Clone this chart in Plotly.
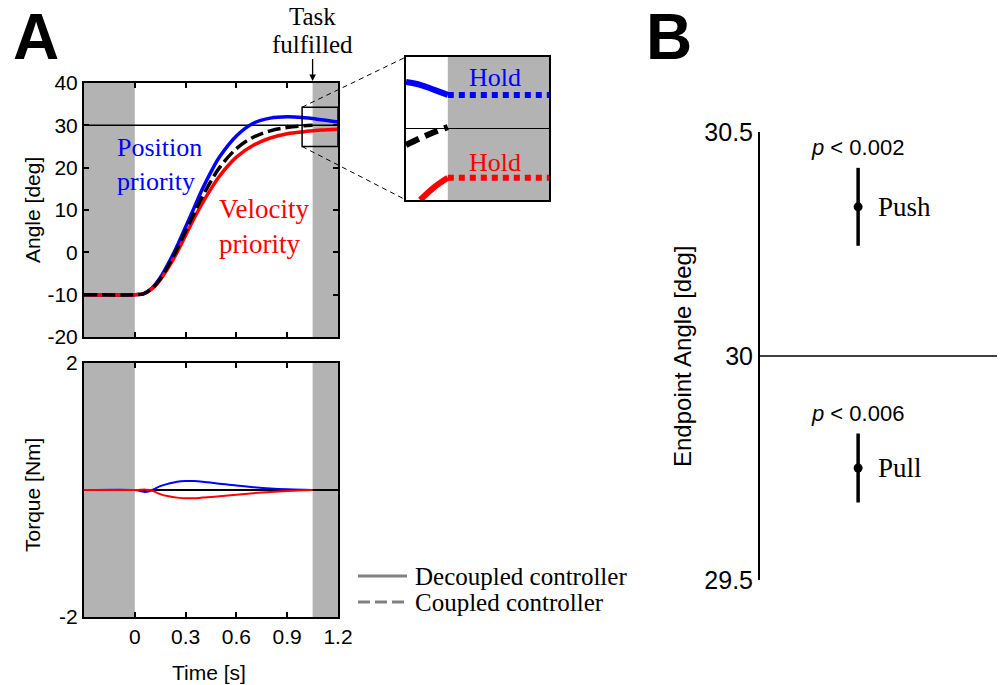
import plotly.graph_objects as go

# ---------------- data ----------------
t_main = [-0.3, 0.0, 0.05, 0.1, 0.15, 0.2, 0.25, 0.3, 0.35, 0.4, 0.45, 0.5, 0.6, 0.7, 0.8, 0.9, 1.0, 1.05, 1.1, 1.2]
angle_position = [-10, -10, -9.8, -8.5, -6, -2.5, 1.5, 6, 10.5, 15, 19, 22.5, 27.5, 30.5, 31.7, 32, 31.8, 31.6, 31.3, 30.8]
angle_velocity = [-10, -10, -9.8, -8.7, -6.5, -3.5, 0, 4, 8, 11.7, 15, 18, 22.5, 25.3, 27, 28, 28.5, 28.7, 28.9, 29.1]
t_coupled = [-0.3, 0.0, 0.05, 0.1, 0.15, 0.2, 0.25, 0.3, 0.35, 0.4, 0.45, 0.5, 0.6, 0.7, 0.8, 0.9, 1.0, 1.05]
angle_coupled = [-10, -10, -9.8, -8.6, -6.3, -3, 0.8, 5, 9.2, 13.2, 16.8, 20, 24.5, 27.2, 28.7, 29.5, 29.9, 30.0]
target_t = [-0.3, 1.2]
target_angle = [30, 30]
angle_ticks = [-20, -10, 0, 10, 20, 30, 40]
angle_ticktext = ["-20", "-10", "0", "10", "20", "30", "40"]

t_torque = [-0.3, 0.0, 0.03, 0.06, 0.09, 0.12, 0.15, 0.2, 0.25, 0.3, 0.35, 0.4, 0.5, 0.6, 0.7, 0.8, 0.9, 1.0, 1.05]
torque_position = [0, 0, -0.015, -0.03, -0.015, 0.02, 0.06, 0.1, 0.13, 0.14, 0.14, 0.13, 0.1, 0.07, 0.045, 0.025, 0.012, 0.004, 0]
torque_velocity = [0, 0, 0.003, 0.006, 0.0, -0.03, -0.065, -0.1, -0.12, -0.13, -0.13, -0.12, -0.1, -0.075, -0.05, -0.03, -0.015, -0.005, 0]
torque_zero = [0, 0]
torque_ticks = [-2, 2]
torque_ticktext = ["-2", "2"]
time_ticks = [0, 0.3, 0.6, 0.9, 1.2]
time_ticktext = ["0", "0.3", "0.6", "0.9", "1.2"]

# inset (zoom of the end of the movement)
inset_t_blue = [0.988, 1.01, 1.03, 1.05]
inset_blue = [33.25, 33.04, 32.7, 32.35]
inset_t_black = [0.988, 1.01, 1.03, 1.05]
inset_black = [28.85, 29.35, 29.75, 30.1]
inset_t_red = [1.009, 1.03, 1.05]
inset_red = [25.0, 25.9, 26.55]
hold_t = [1.05, 1.2]
hold_blue = [32.35, 32.35]
hold_red = [26.55, 26.55]

# panel B
conditions = ["Push", "Pull"]
endpoint_mean = [30.333, 29.75]
endpoint_err = [0.087, 0.077]
p_labels = ["<i>p</i> < 0.002", "<i>p</i> < 0.006"]
b_ticks = [29.5, 30, 30.5]
b_ticktext = ["29.5", "30", "30.5"]

legend_names = ["Decoupled controller", "Coupled controller"]

# ---------------- layout geometry ----------------
W, H = 1003, 685
def xd(a, b): return [a / W, b / W]
def yd(top, bottom): return [1 - bottom / H, 1 - top / H]

XR_MAIN = [-0.3, 1.2]
YR_MAIN = [-20, 40]
XR_INSET = [0.988, 1.2]
YR_INSET = [25, 35]
DOM_X_MAIN = xd(84, 338)
DOM_Y_MAIN = yd(83, 337)
DOM_Y_TORQ = yd(363, 617)
DOM_X_INSET = xd(406, 549)
DOM_Y_INSET = yd(57, 200)
DOM_X_B = xd(760, 997)
DOM_Y_B = yd(132, 580)

def to_paper(xv, yv, xdom, ydom, xr, yr):
    px = xdom[0] + (xv - xr[0]) / (xr[1] - xr[0]) * (xdom[1] - xdom[0])
    py = ydom[0] + (yv - yr[0]) / (yr[1] - yr[0]) * (ydom[1] - ydom[0])
    return px, py

BLUE = "#0000ff"
RED = "#ff0000"
GRAY = "#b3b3b3"
SANS = "Liberation Sans"
SERIF = "Liberation Serif"
SERIF_SIZE = 26
SANS_A = 21

fig = go.Figure()

# main angle panel
fig.add_trace(go.Scatter(x=target_t, y=target_angle, mode="lines", line=dict(color="black", width=1.5),
                         xaxis="x", yaxis="y"))
fig.add_trace(go.Scatter(x=t_main, y=angle_position, mode="lines", line=dict(color=BLUE, width=3.5, shape="spline"),
                         xaxis="x", yaxis="y"))
fig.add_trace(go.Scatter(x=t_main, y=angle_velocity, mode="lines", line=dict(color=RED, width=3.5, shape="spline"),
                         xaxis="x", yaxis="y"))
fig.add_trace(go.Scatter(x=t_coupled, y=angle_coupled, mode="lines",
                         line=dict(color="black", width=3.5, dash="13px,5px", shape="spline"),
                         xaxis="x", yaxis="y"))

# torque panel
fig.add_trace(go.Scatter(x=target_t, y=torque_zero, mode="lines", line=dict(color="black", width=2),
                         xaxis="x2", yaxis="y2"))
fig.add_trace(go.Scatter(x=t_torque, y=torque_position, mode="lines", line=dict(color=BLUE, width=2, shape="spline"),
                         xaxis="x2", yaxis="y2"))
fig.add_trace(go.Scatter(x=t_torque, y=torque_velocity, mode="lines", line=dict(color=RED, width=2, shape="spline"),
                         xaxis="x2", yaxis="y2"))

# inset
fig.add_trace(go.Scatter(x=XR_INSET, y=[30, 30], mode="lines", line=dict(color="black", width=1),
                         xaxis="x3", yaxis="y3"))
fig.add_trace(go.Scatter(x=inset_t_blue, y=inset_blue, mode="lines", line=dict(color=BLUE, width=6, shape="spline"),
                         xaxis="x3", yaxis="y3"))
fig.add_trace(go.Scatter(x=hold_t, y=hold_blue, mode="lines", line=dict(color=BLUE, width=6, dash="6px,5px"),
                         xaxis="x3", yaxis="y3"))
fig.add_trace(go.Scatter(x=inset_t_black, y=inset_black, mode="lines",
                         line=dict(color="black", width=6, dash="14px,7px", shape="spline"),
                         xaxis="x3", yaxis="y3"))
fig.add_trace(go.Scatter(x=inset_t_red, y=inset_red, mode="lines", line=dict(color=RED, width=6, shape="spline"),
                         xaxis="x3", yaxis="y3"))
fig.add_trace(go.Scatter(x=hold_t, y=hold_red, mode="lines", line=dict(color=RED, width=6, dash="6px,5px"),
                         xaxis="x3", yaxis="y3"))

# panel B
fig.add_trace(go.Scatter(x=[0, 1], y=[30, 30], mode="lines", line=dict(color="black", width=1.5),
                         xaxis="x4", yaxis="y4"))
fig.add_trace(go.Scatter(x=[0.414, 0.414], y=endpoint_mean, mode="markers",
                         marker=dict(color="black", size=9),
                         error_y=dict(type="data", array=endpoint_err, color="black", thickness=3.5, width=0),
                         xaxis="x4", yaxis="y4"))

axis_common = dict(showline=True, linecolor="black", linewidth=2, mirror="ticks", ticks="inside",
                   ticklen=5, tickwidth=1.5, tickcolor="black", showgrid=False, zeroline=False, automargin=False,
                   tickfont=dict(family=SANS, size=SANS_A, color="black"))

fig.update_layout(
    width=W, height=H, margin=dict(l=0, r=0, t=0, b=0, pad=0, autoexpand=False),
    paper_bgcolor="white", plot_bgcolor="white", showlegend=False,
    xaxis=dict(domain=DOM_X_MAIN, range=XR_MAIN, anchor="y", tickvals=time_ticks,
               showticklabels=False, **axis_common),
    yaxis=dict(domain=DOM_Y_MAIN, range=YR_MAIN, anchor="x", tickvals=angle_ticks, ticktext=angle_ticktext,
               **axis_common),
    xaxis2=dict(domain=DOM_X_MAIN, range=XR_MAIN, anchor="y2", tickvals=time_ticks,
                ticktext=time_ticktext, **axis_common),
    yaxis2=dict(domain=DOM_Y_TORQ, range=[-2, 2], anchor="x2", tickvals=torque_ticks, ticktext=torque_ticktext,
                **axis_common),
    xaxis3=dict(domain=DOM_X_INSET, range=XR_INSET, anchor="y3", showline=True, linecolor="black", linewidth=2,
                mirror=True, ticks="", showticklabels=False, showgrid=False, zeroline=False, automargin=False),
    yaxis3=dict(domain=DOM_Y_INSET, range=YR_INSET, anchor="x3", showline=True, linecolor="black", linewidth=2,
                mirror=True, ticks="", showticklabels=False, showgrid=False, zeroline=False, automargin=False),
    xaxis4=dict(domain=DOM_X_B, range=[0, 1], anchor="y4", visible=False, automargin=False),
    yaxis4=dict(domain=DOM_Y_B, range=[29.5, 30.5], anchor="x4", showline=True, linecolor="black", linewidth=2,
                ticks="", tickvals=b_ticks, ticktext=b_ticktext, showgrid=False, zeroline=False, automargin=False,
                tickfont=dict(family=SANS, size=25, color="black")),
)

shapes = []
# grey hold periods
for xa, ya in [("x", "y"), ("x2", "y2")]:
    shapes.append(dict(type="rect", xref=xa, yref=ya + " domain", x0=-0.3, x1=0, y0=0, y1=1,
                       fillcolor=GRAY, line=dict(width=0), layer="below"))
    shapes.append(dict(type="rect", xref=xa, yref=ya + " domain", x0=1.05, x1=1.2, y0=0, y1=1,
                       fillcolor=GRAY, line=dict(width=0), layer="below"))
shapes.append(dict(type="rect", xref="x3", yref="y3 domain", x0=1.05, x1=1.2, y0=0, y1=1,
                   fillcolor=GRAY, line=dict(width=0), layer="below"))
# zoom rectangle in main panel
ZX0, ZY0, ZY1 = 0.988, 25, 34.3
shapes.append(dict(type="rect", xref="x", yref="y", x0=ZX0, x1=1.2, y0=ZY0, y1=ZY1,
                   line=dict(color="black", width=1.5)))
# connectors
p_top = to_paper(ZX0, ZY1, DOM_X_MAIN, DOM_Y_MAIN, XR_MAIN, YR_MAIN)
p_bot = to_paper(ZX0, ZY0, DOM_X_MAIN, DOM_Y_MAIN, XR_MAIN, YR_MAIN)
shapes.append(dict(type="line", xref="paper", yref="paper", x0=p_top[0], y0=p_top[1],
                   x1=DOM_X_INSET[0], y1=DOM_Y_INSET[1], line=dict(color="black", width=1, dash="5px,4px")))
shapes.append(dict(type="line", xref="paper", yref="paper", x0=p_bot[0], y0=p_bot[1],
                   x1=DOM_X_INSET[0], y1=DOM_Y_INSET[0], line=dict(color="black", width=1, dash="5px,4px")))
# manual legend samples
LEG_X0, LEG_X1 = 358 / W, 407 / W
LEG_Y = [1 - 576 / H, 1 - 602 / H]
shapes.append(dict(type="line", xref="paper", yref="paper", x0=LEG_X0, x1=LEG_X1, y0=LEG_Y[0], y1=LEG_Y[0],
                   line=dict(color="#808080", width=3)))
shapes.append(dict(type="line", xref="paper", yref="paper", x0=LEG_X0, x1=LEG_X1, y0=LEG_Y[1], y1=LEG_Y[1],
                   line=dict(color="#808080", width=3, dash="12px,5px")))
fig.update_layout(shapes=shapes)

ann = []
ann.append(dict(text="<b>A</b>", x=12 / W, y=1.0, xref="paper", yref="paper", xanchor="left", yanchor="top",
                showarrow=False, borderpad=0, font=dict(family=SANS, size=64, color="black")))
ann.append(dict(text="<b>B</b>", x=645 / W, y=1.0, xref="paper", yref="paper", xanchor="left", yanchor="top",
                showarrow=False, borderpad=0, font=dict(family=SANS, size=64, color="black")))
ann.append(dict(text="Task", x=1.05, y=1 - 16 / H, xref="x", yref="paper", xanchor="center", yanchor="middle",
                showarrow=False, font=dict(family=SERIF, size=25, color="black")))
ann.append(dict(text="fulfilled", x=1.05, y=DOM_Y_MAIN[1] + 2 / H, xref="x", yref="paper",
                showarrow=True, ax=0, ay=-37, arrowhead=2, arrowsize=1, arrowwidth=1.3, arrowcolor="black",
                font=dict(family=SERIF, size=25, color="black")))
ann.append(dict(text="Position<br>priority", x=-0.115, y=20.7, xref="x", yref="y", xanchor="left", yanchor="middle",
                align="left", showarrow=False, font=dict(family=SERIF, size=SERIF_SIZE, color=BLUE)))
ann.append(dict(text="Velocity<br>priority", x=0.485, y=6.0, xref="x", yref="y", xanchor="left", yanchor="middle",
                align="left", showarrow=False, font=dict(family=SERIF, size=SERIF_SIZE + 1, color=RED)))
ann.append(dict(text="Hold", x=1.12, y=33.6, xref="x3", yref="y3", showarrow=False,
                font=dict(family=SERIF, size=SERIF_SIZE, color=BLUE)))
ann.append(dict(text="Hold", x=1.12, y=27.6, xref="x3", yref="y3", showarrow=False,
                font=dict(family=SERIF, size=SERIF_SIZE, color=RED)))
ann.append(dict(text="Angle [deg]", x=32 / W, y=(DOM_Y_MAIN[0] + DOM_Y_MAIN[1]) / 2, xref="paper", yref="paper",
                xanchor="center", yanchor="middle",
                textangle=-90, showarrow=False, font=dict(family=SANS, size=SANS_A, color="black")))
ann.append(dict(text="Torque [Nm]", x=32 / W, y=1 - 495 / H, xref="paper", yref="paper",
                xanchor="center", yanchor="middle",
                textangle=-90, showarrow=False, font=dict(family=SANS, size=SANS_A, color="black")))
ann.append(dict(text="Time [s]", x=0.44, y=1 - 672 / H, xref="x2", yref="paper", xanchor="center", yanchor="middle",
                showarrow=False, font=dict(family=SANS, size=SANS_A, color="black")))
ann.append(dict(text="Endpoint Angle [deg]", x=682 / W, y=(DOM_Y_B[0] + DOM_Y_B[1]) / 2, xref="paper", yref="paper",
                xanchor="center", yanchor="middle",
                textangle=-90, showarrow=False, font=dict(family=SANS, size=24, color="black")))
for i, c in enumerate(conditions):
    ann.append(dict(text=c, x=0.49, y=endpoint_mean[i], xref="x4", yref="y4", xanchor="left", yanchor="middle",
                    showarrow=False, font=dict(family=SERIF, size=27, color="black")))
    ann.append(dict(text=p_labels[i], x=0.41, y=endpoint_mean[i] + endpoint_err[i] + 0.045, xref="x4", yref="y4",
                    xanchor="center", yanchor="middle",
                    showarrow=False, font=dict(family=SANS, size=22, color="black")))
for i, name in enumerate(legend_names):
    ann.append(dict(text=name, x=413 / W, y=LEG_Y[i], xref="paper", yref="paper", xanchor="left", yanchor="middle",
                    showarrow=False, font=dict(family=SERIF, size=25, color="black")))
fig.update_layout(annotations=ann)

fig.write_html("out.html", config={"displayModeBar": False},
               post_script="document.body.style.margin='0px';")
